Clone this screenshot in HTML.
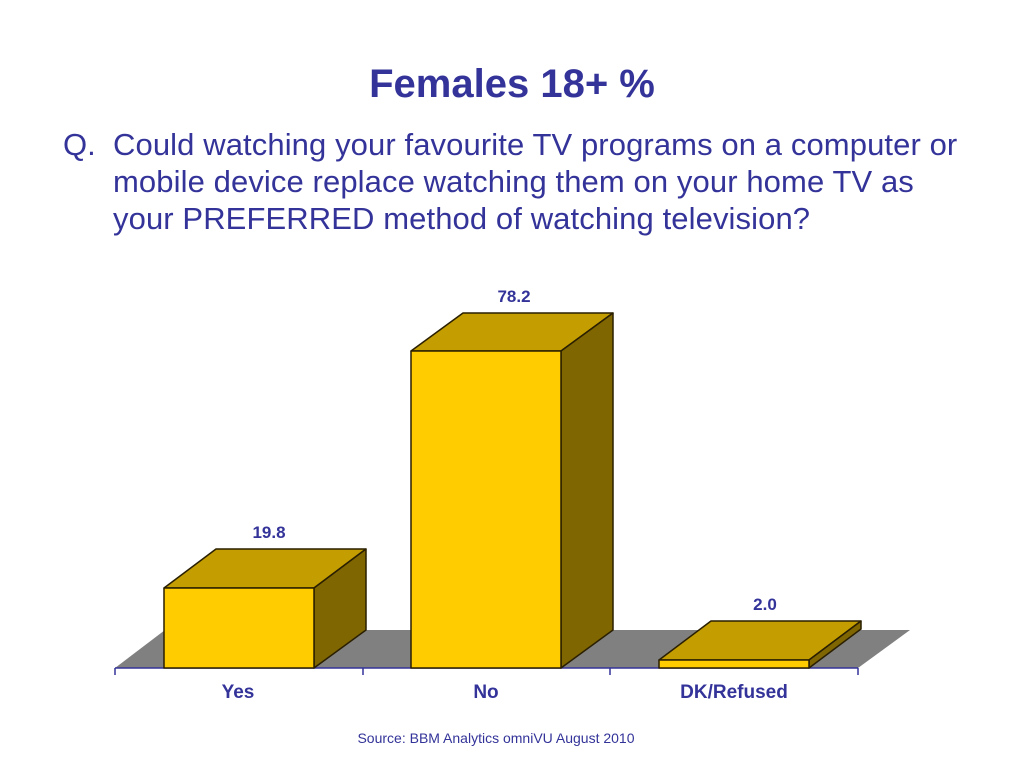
<!DOCTYPE html>
<html><head><style>
body{margin:0;width:1024px;height:768px;background:#fff;overflow:hidden;font-family:"Liberation Sans",Arial,sans-serif;}
.t{position:absolute;color:#333399;}
</style></head><body>
<div class="t" style="left:0;width:1024px;top:62px;text-align:center;font-size:40px;font-weight:bold;">Females 18+ %</div>
<div class="t" style="left:63px;top:126px;font-size:31px;line-height:37px;">Q.</div>
<div class="t" style="left:113px;top:126px;width:900px;font-size:31px;line-height:37px;white-space:nowrap;letter-spacing:0.1px;">Could watching your favourite TV programs on a computer or<br>mobile device replace watching them on your home TV as<br>your PREFERRED method of watching television?</div>
<svg width="1024" height="768" style="position:absolute;left:0;top:0">
<polygon points="115,668 858,668 910,630 165,630" fill="#808080"/>
<line x1="115" y1="668" x2="858" y2="668" stroke="#333399" stroke-width="1.5"/>
<g stroke="#333399" stroke-width="1.5">
<line x1="115" y1="668" x2="115" y2="675"/><line x1="363" y1="668" x2="363" y2="675"/>
<line x1="610" y1="668" x2="610" y2="675"/><line x1="858" y1="668" x2="858" y2="675"/>
</g>
<g stroke="#2a1f00" stroke-width="1.5" stroke-linejoin="round">
<polygon points="164,588 216,549 366,549 314,588" fill="#c49e00"/>
<polygon points="314,588 366,549 366,630 314,668" fill="#7f6600"/>
<rect x="164" y="588" width="150" height="80" fill="#ffcc00"/>
<polygon points="411,351 463,313 613,313 561,351" fill="#c49e00"/>
<polygon points="561,351 613,313 613,630 561,668" fill="#7f6600"/>
<rect x="411" y="351" width="150" height="317" fill="#ffcc00"/>
<polygon points="659,660 711,621 861,621 809,660" fill="#c49e00"/>
<polygon points="809,660 861,621 861,629 809,668" fill="#7f6600"/>
<rect x="659" y="660" width="150" height="8" fill="#ffcc00"/>
</g>
<g fill="#333399" font-family="Liberation Sans,Arial,sans-serif" font-weight="bold" text-anchor="middle">
<text x="269" y="538" font-size="17">19.8</text>
<text x="514" y="302" font-size="17">78.2</text>
<text x="765" y="610" font-size="17">2.0</text>
<text x="238" y="698" font-size="19">Yes</text>
<text x="486" y="698" font-size="19">No</text>
<text x="734" y="698" font-size="19">DK/Refused</text>
<text x="496" y="743" font-size="14" font-weight="normal">Source: BBM Analytics omniVU August 2010</text>
</g>
</svg>
</body></html>
